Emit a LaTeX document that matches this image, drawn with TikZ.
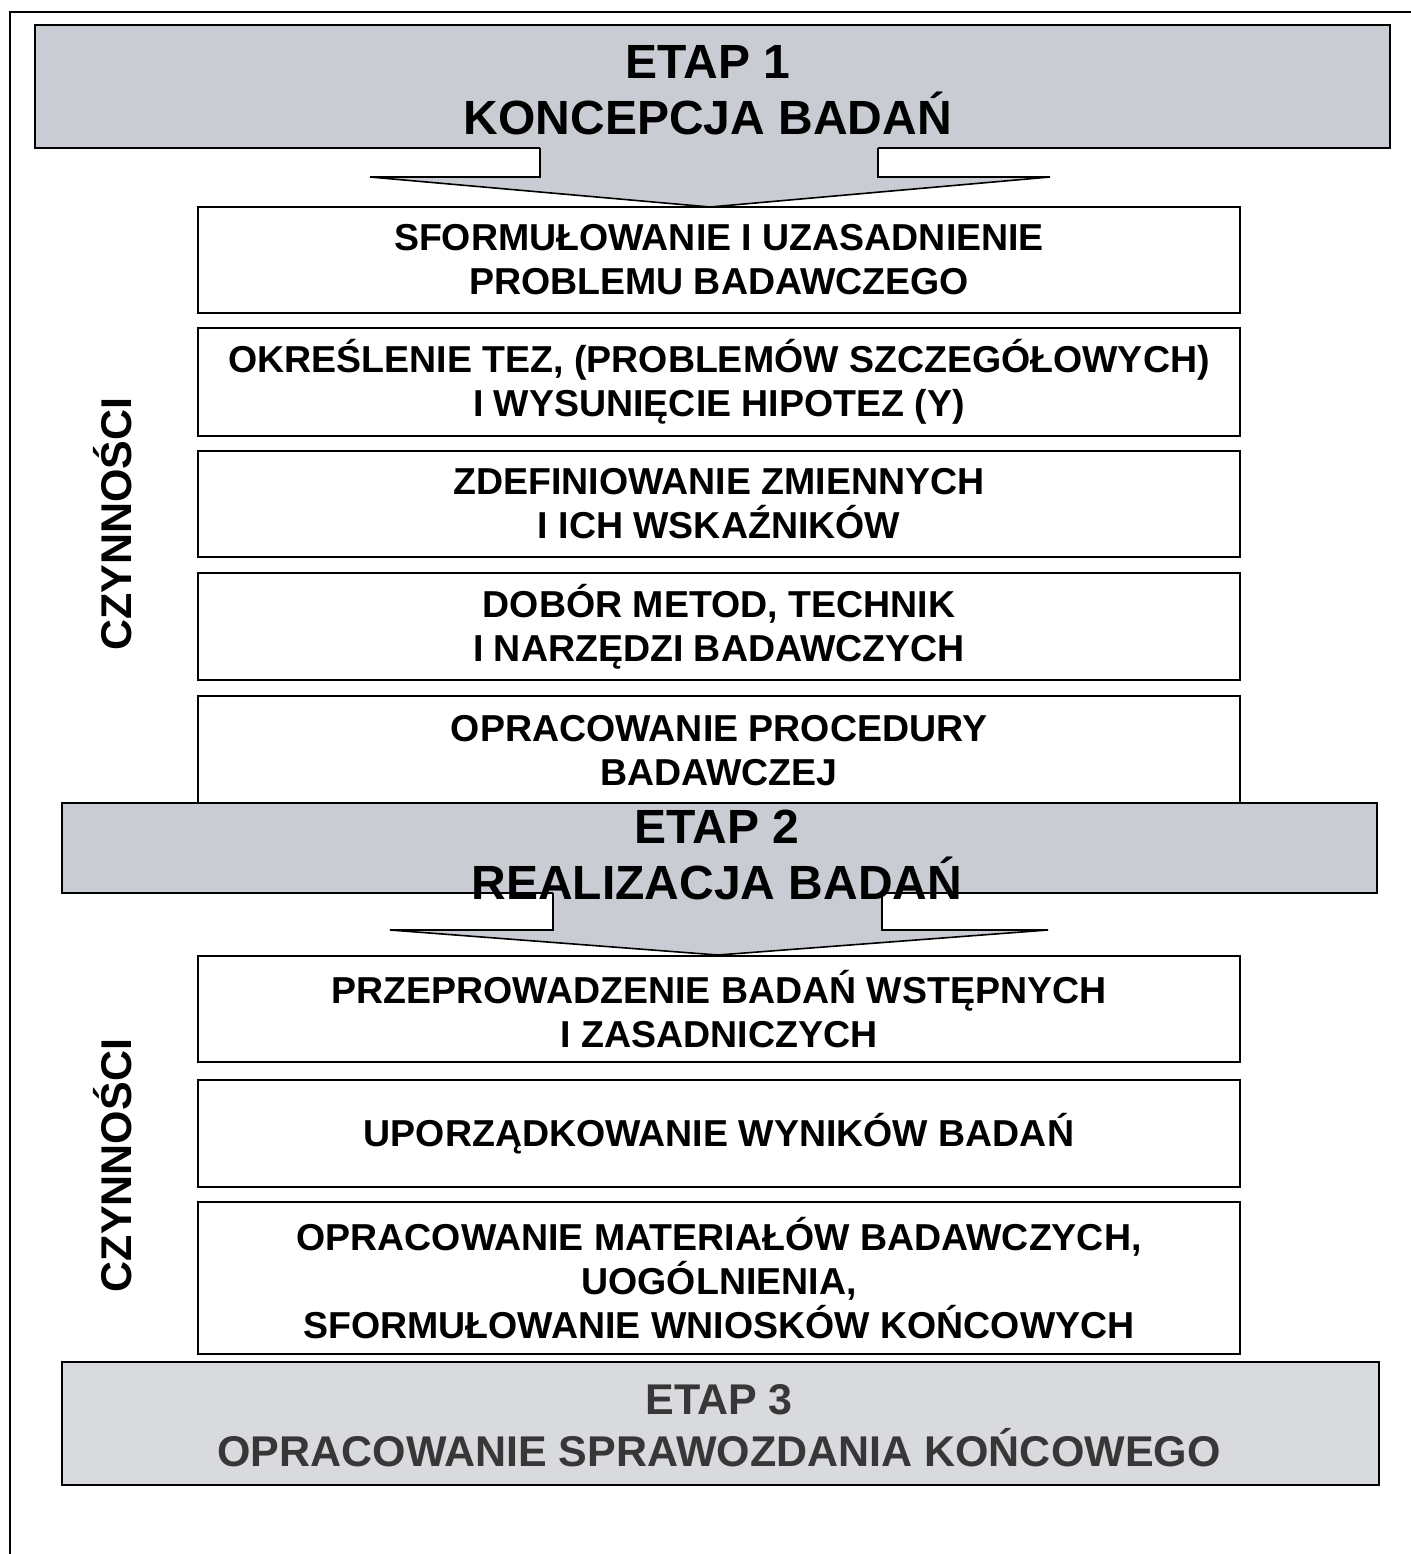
\documentclass[tikz,border=0pt]{standalone}
\usepackage{fontspec}
\setmainfont{Liberation Sans}
\definecolor{bannergray}{RGB}{201,204,211}
\definecolor{lightbanner}{RGB}{216,218,222}
\definecolor{darktext}{RGB}{55,55,55}
\begin{document}
\begin{tikzpicture}[x=0.5pt,y=-0.5pt,
  banner/.style={draw=black, line width=1pt, fill=bannergray, inner sep=0pt},
  stagetitle/.style={font=\fontsize{24}{28}\selectfont\bfseries, align=center, inner sep=0pt},
  stepbox/.style={draw=black, line width=0.8pt, fill=white, minimum width=521pt, inner sep=0pt,
    font=\fontsize{18.75}{22}\selectfont\bfseries, align=center},
  sidelabel/.style={font=\fontsize{21.5}{24}\selectfont\bfseries, rotate=90, inner sep=0pt},
  blockarrow/.style={draw=black, line width=0.8pt, line join=miter},
]
\useasboundingbox (0,0) rectangle (1411,1554);

% outer frame (top and left edges)
\draw[line width=1pt] (1411,12) -- (10,12) -- (10,1554);

% ---- stage 1 ----
\node[banner, minimum width=677.5pt, minimum height=61.5pt] (e1) at (712.5,86.5) {};
\node[stagetitle] (e1t) at (708,90) {ETAP 1\\KONCEPCJA BADAŃ};

\fill[bannergray] (540,146) -- (540,177) -- (370,177) -- (710,207) -- (1050,177) -- (878,177) -- (878,146) -- cycle;
\draw[blockarrow] (540,148) -- (540,177) -- (370,177) -- (710,207) -- (1050,177) -- (878,177) -- (878,148);

\node[stepbox, minimum height=53pt] (b1) at (719,260) {SFORMUŁOWANIE I UZASADNIENIE\\PROBLEMU BADAWCZEGO};
\node[stepbox, minimum height=54pt] (b2) at (719,382) {OKREŚLENIE TEZ, (PROBLEMÓW SZCZEGÓŁOWYCH)\\I WYSUNIĘCIE HIPOTEZ (Y)};
\node[stepbox, minimum height=53pt] (b3) at (719,504) {ZDEFINIOWANIE ZMIENNYCH\\I ICH WSKAŹNIKÓW};
\node[stepbox, minimum height=53.5pt] (b4) at (719,626.5) {DOBÓR METOD, TECHNIK\\I NARZĘDZI BADAWCZYCH};
\node[stepbox, minimum height=54.5pt] (b5) at (719,750.5) {OPRACOWANIE PROCEDURY\\BADAWCZEJ};

\node[sidelabel] (c1) at (113,524) {CZYNNOŚCI};

% ---- stage 2 ----
\node[banner, minimum width=657.5pt, minimum height=45pt] (e2) at (719.5,848) {};
\fill[bannergray] (553,891) -- (553,930) -- (390,930) -- (718,955) -- (1048,930) -- (882,930) -- (882,891) -- cycle;
\draw[blockarrow] (553,893) -- (553,930) -- (390,930) -- (718,955) -- (1048,930) -- (882,930) -- (882,893);
\node[stagetitle] (e2t) at (717,854.5) {ETAP 2\\REALIZACJA BADAŃ};

\node[stepbox, minimum height=53pt] (b6) at (719,1009) {PRZEPROWADZENIE BADAŃ WSTĘPNYCH\\I ZASADNICZYCH};
\node[stepbox, minimum height=53.5pt] (b7) at (719,1133.5) {UPORZĄDKOWANIE WYNIKÓW BADAŃ};
\node[stepbox, minimum height=76pt] (b8) at (719,1278) {OPRACOWANIE MATERIAŁÓW BADAWCZYCH,\\UOGÓLNIENIA,\\SFORMUŁOWANIE WNIOSKÓW KOŃCOWYCH};

\node[sidelabel] (c2) at (113,1165.5) {CZYNNOŚCI};

% ---- stage 3 ----
\node[banner, fill=lightbanner, minimum width=658.5pt, minimum height=61.5pt] (e3) at (720.5,1423.5) {};
\node[stagetitle, font=\fontsize{21.5}{26}\selectfont\bfseries, text=darktext] (e3t) at (719,1426) {ETAP 3\\OPRACOWANIE SPRAWOZDANIA KOŃCOWEGO};
\end{tikzpicture}
\end{document}
